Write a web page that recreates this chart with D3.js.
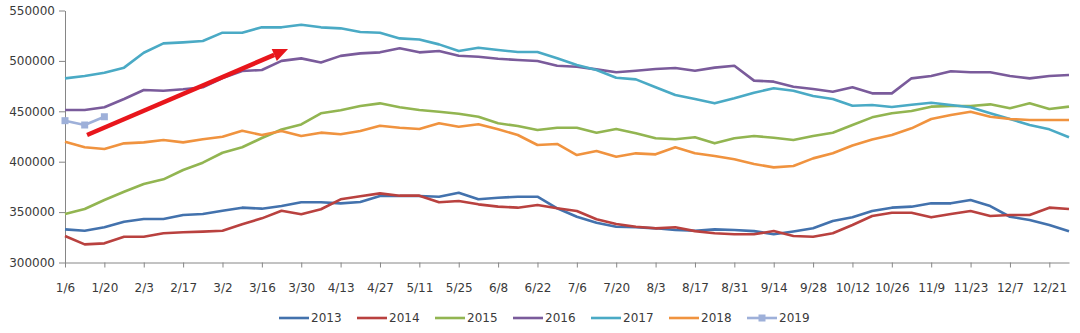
<!DOCTYPE html>
<html>
<head>
<meta charset="utf-8">
<script src="https://cdn.jsdelivr.net/npm/d3@7"></script>
<style>
  body { margin: 0; background: #fff; }
  svg { display: block; }
  text { font-family: "DejaVu Sans", Verdana, sans-serif; }
</style>
</head>
<body>
<svg id="chart" width="1080" height="333"></svg>
<script>
// Weekly categories (52 weeks); every other week carries a label
const weeks = ["1/6","1/13","1/20","1/27","2/3","2/10","2/17","2/24","3/2","3/9",
  "3/16","3/23","3/30","4/6","4/13","4/20","4/27","5/4","5/11","5/18",
  "5/25","6/1","6/8","6/15","6/22","6/29","7/6","7/13","7/20","7/27",
  "8/3","8/10","8/17","8/24","8/31","9/7","9/14","9/21","9/28","10/5",
  "10/12","10/19","10/26","11/2","11/9","11/16","11/23","11/30","12/7","12/14",
  "12/21","12/28"];
const xTickLabels = weeks.filter((d, i) => i % 2 === 0);
const yTicks = [300000, 350000, 400000, 450000, 500000, 550000];

const s2013 = [332900,331500,334900,340500,343200,343200,347100,348100,351400,354400,
  353400,356000,359700,359700,358700,360000,366000,366000,366000,365300,
  369200,362700,364300,365300,365300,353800,345400,339500,335500,334900,
  333900,332200,331500,332900,332200,331100,328100,330800,333900,341200,
  344800,351100,354400,355400,358700,358700,362000,356000,345400,342200,
  337200,331100];
const s2014 = [326300,318000,319000,325600,325600,329000,330000,330600,331500,337900,
  343800,351400,347800,352800,362700,365800,368600,366300,366300,359700,
  361000,357700,355400,354400,357000,353800,351100,342900,338200,335500,
  333900,334900,331100,329000,328000,328000,331200,326300,325500,329000,
  337200,346100,349400,349400,344800,348100,351100,346100,347100,347100,
  354400,353100];
const s2015 = [348100,353100,362000,370200,377900,382500,391800,399000,408900,414300,
  423500,432000,437000,448000,451000,455300,457900,454000,451300,449600,
  447600,444600,438100,435400,431400,433700,433700,428800,432400,428200,
  423200,422200,424200,418200,423200,425500,423800,421500,425500,428800,
  436400,444000,448000,450300,454600,455300,455300,456900,453000,457900,
  452300,454600];
const s2016 = [451300,451300,454000,462200,471100,470400,471800,473800,483000,490000,
  491000,500000,502500,498500,505000,507500,508500,512500,508500,509800,
  505100,504100,502200,500900,499900,495200,494200,491600,488700,490300,
  492000,492900,490300,493300,495200,480400,479400,474400,472100,469400,
  473800,467800,467800,482700,485000,489700,488700,488700,485000,482700,
  485000,486000];
const s2017 = [482700,485000,488300,493300,508100,517400,518400,519700,528000,528000,
  533300,533300,535900,533300,532300,528600,528000,522300,521300,516400,
  509800,513100,510800,508800,508800,502600,495900,491000,483300,481700,
  473800,466200,462200,457900,462900,468400,472800,470400,465200,462200,
  455500,456200,454200,456500,458500,456200,454000,448000,442400,436400,
  432100,424200];
const s2018 = [419800,414300,412600,418200,419200,421500,419200,422200,424800,430700,
  426500,430400,425500,428800,427200,430500,435700,433700,432400,438100,
  434700,437100,432100,426500,416600,417600,406600,410600,405000,408300,
  407300,414300,408300,405600,402400,397700,394400,395700,403300,408300,
  416000,422000,426500,433100,442400,446300,449600,444600,442400,441400,
  441400,441400];
const s2019 = [440700,436400,444600];

const seriesNames = ["2013","2014","2015","2016","2017","2018","2019"];
const seriesValues = [s2013, s2014, s2015, s2016, s2017, s2018, s2019];
const seriesColors = ["#4372ad","#b9413f","#92b551","#7a5b9b","#4aaac5","#f0933f","#9eb0d9"];

// Trend arrow, given in (week index, value) terms
const arrowFrom = [1.12, 426500];
const arrowTo = [11.33, 511800];

const svg = d3.select("#chart");
const plotLeft = 65, plotRight = 1069, plotTop = 10.5, plotBottom = 262.5;

const x = d3.scalePoint().domain(weeks).range([plotLeft, plotRight]);
const xIdx = d3.scaleLinear().domain([0, weeks.length - 1]).range([plotLeft, plotRight]);
const y = d3.scaleLinear().domain([300000, 550000]).range([plotBottom, plotTop]);

const axisColor = "#868686";
const textColor = "#3a3a3a";

// Y axis
const gy = svg.append("g").attr("transform", `translate(${plotLeft},0)`)
  .call(d3.axisLeft(y).tickValues(yTicks).tickSize(6).tickSizeOuter(0).tickPadding(4)
    .tickFormat(d3.format("d")));
gy.select(".domain").attr("stroke", axisColor);
gy.selectAll(".tick line").attr("stroke", axisColor);
gy.selectAll(".tick text").attr("fill", textColor).style("font-size", "12px")
  .style("font-family", '"DejaVu Sans", Verdana, sans-serif');

// X axis
const gx = svg.append("g").attr("transform", `translate(0,${plotBottom})`)
  .call(d3.axisBottom(x).tickValues(xTickLabels).tickSize(5).tickSizeOuter(0).tickPadding(16));
gx.select(".domain").attr("stroke", axisColor);
gx.selectAll(".tick line").attr("stroke", axisColor);
gx.selectAll(".tick text").attr("fill", textColor).style("font-size", "12px")
  .style("font-family", '"DejaVu Sans", Verdana, sans-serif');

// Series lines
const line = d3.line().x((d, i) => x(weeks[i])).y(d => y(d));
seriesValues.forEach((vals, k) => {
  svg.append("path")
    .datum(vals)
    .attr("fill", "none")
    .attr("stroke", seriesColors[k])
    .attr("stroke-width", 2.6)
    .attr("stroke-linejoin", "round")
    .attr("d", line);
});

// 2019 markers
svg.append("g").selectAll("rect")
  .data(s2019)
  .join("rect")
  .attr("x", (d, i) => x(weeks[i]) - 3.5)
  .attr("y", d => y(d) - 3.5)
  .attr("width", 7).attr("height", 7)
  .attr("fill", seriesColors[6]);

// Red trend arrow
const ax0 = xIdx(arrowFrom[0]), ay0 = y(arrowFrom[1]);
const ax1 = xIdx(arrowTo[0]), ay1 = y(arrowTo[1]);
const ang = Math.atan2(ay1 - ay0, ax1 - ax0);
const headLen = 15, headHalf = 6.5;
const bx = ax1 - headLen * Math.cos(ang), by = ay1 - headLen * Math.sin(ang);
svg.append("line")
  .attr("x1", ax0).attr("y1", ay0).attr("x2", bx).attr("y2", by)
  .attr("stroke", "#e8161c").attr("stroke-width", 4.5);
svg.append("path")
  .attr("d", d3.line()([
    [ax1, ay1],
    [bx + headHalf * Math.sin(ang), by - headHalf * Math.cos(ang)],
    [bx - headHalf * Math.sin(ang), by + headHalf * Math.cos(ang)]
  ]) + "Z")
  .attr("fill", "#e8161c");

// Legend
const legend = svg.append("g");
const legX0 = 279, legStep = 78, legY = 318;
seriesNames.forEach((name, k) => {
  const g = legend.append("g").attr("transform", `translate(${legX0 + k * legStep},${legY})`);
  g.append("line").attr("x1", 0).attr("x2", 30).attr("y1", 0).attr("y2", 0)
    .attr("stroke", seriesColors[k]).attr("stroke-width", 2.6);
  if (k === 6) {
    g.append("rect").attr("x", 11.5).attr("y", -3.5).attr("width", 7).attr("height", 7)
      .attr("fill", seriesColors[k]);
  }
  g.append("text").attr("x", 32).attr("y", 0).attr("dy", "0.36em")
    .attr("fill", textColor).style("font-size", "12px").text(name);
});
</script>
</body>
</html>
